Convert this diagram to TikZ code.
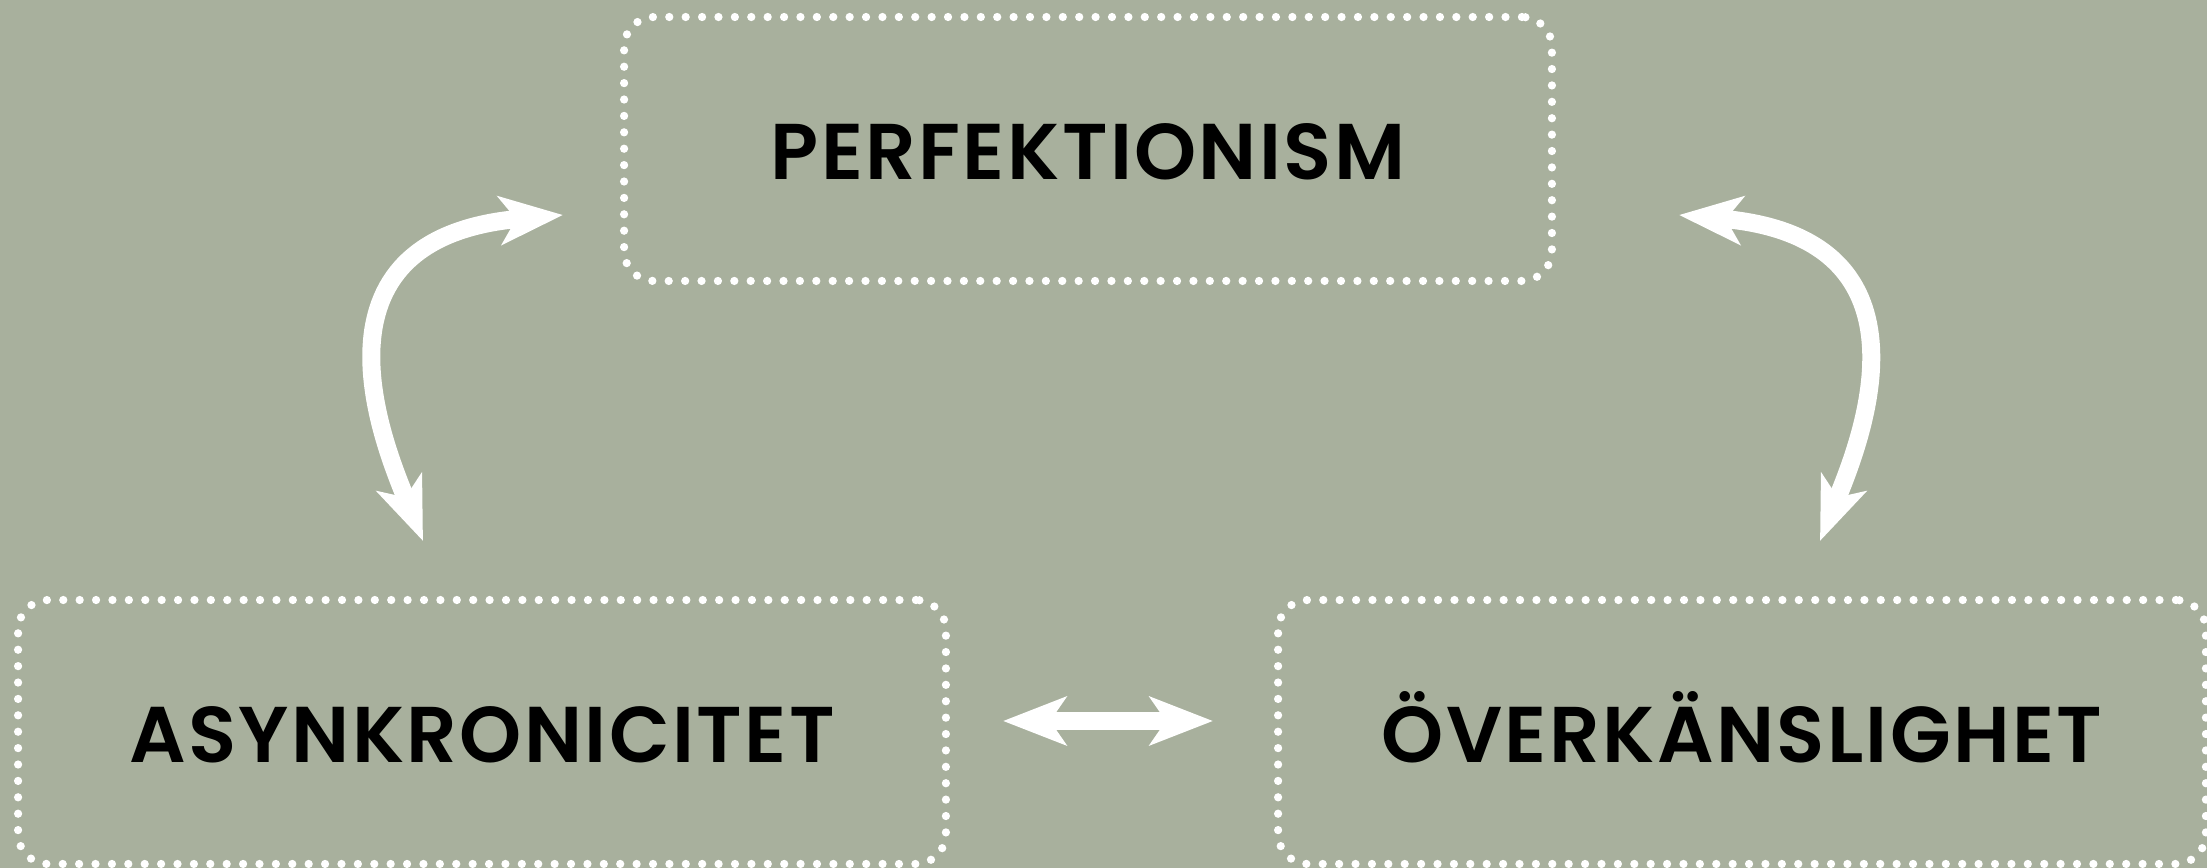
\documentclass[tikz,border=0pt]{standalone}
\usepackage{fontspec}
\setmainfont{Poppins}[BoldFont={* SemiBold}]
\usetikzlibrary{arrows.meta}
\definecolor{sage}{RGB}{168,176,157}
\tikzset{
    trait/.style={draw=white, line width=0.165cm, dash pattern=on 0pt off 0.328cm, line cap=round,
        rounded corners=0.6cm, minimum width=18.56cm, minimum height=5.28cm, inner sep=0pt,
        text height=1.22cm, text depth=0pt,
        font=\addfontfeatures{LetterSpace=3}\fontsize{45}{54}\selectfont\bfseries, text=black},
    twoway/.style={white, line width=0.36cm, {Stealth[length=1.26cm,width=0.96cm,inset=0.32cm]}-{Stealth[length=1.26cm,width=0.96cm,inset=0.32cm]}}
}
\begin{document}
\begin{tikzpicture}[x=0.02cm, y=0.02cm]
    % background
    \fill[sage] (0,0) rectangle (2207,868);
    \useasboundingbox (0,0) rectangle (2207,868);
    % boxes
    \node[trait] (perf) at (1088,719) {PERFEKTIONISM};
    \node[trait] (asyn) at (482,136) {ASYNKRONICITET};
    \node[trait] (over) at (1742,136) {ÖVERKÄNSLIGHET};
    % arrow ends
    \coordinate (ltop) at (563,653);
    \coordinate (lbot) at (423,327);
    \coordinate (rtop) at (1679,653);
    \coordinate (rbot) at (1820,327);
    \coordinate (mleft) at (1003,147);
    \coordinate (mright) at (1213,147);
    % arrows
    \draw[twoway] (ltop) .. controls +(185:268) and +(112:100) .. (lbot);
    \draw[twoway] (rtop) .. controls +(-5:268) and +(68:100) .. (rbot);
    \draw[twoway] (mleft) -- (mright);
\end{tikzpicture}
\end{document}
